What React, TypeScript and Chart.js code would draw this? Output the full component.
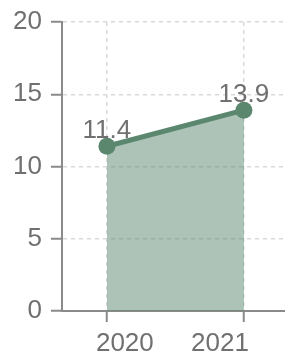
import React, { useEffect, useRef } from "react";
import { Chart, registerables } from "chart.js";

Chart.register(...registerables);

// ---- data ----
const years: number[] = [2020, 2021];
const values: number[] = [11.4, 13.9];
const yTicks: number[] = [0, 5, 10, 15, 20];
const xRange: number[] = [2019.672, 2021.3];
// where each year label sits relative to its year (in axis units)
const labelShift: number[] = [0.131, -0.175];

const LINE = "#5b876f";
const FILL = "rgba(91,135,111,0.5)";
const AXIS = "#8a8a8a";
const GRID = "#d9d9d9";
const TEXT = "#707070";
const FONT = "'Liberation Sans', Arial, sans-serif";

const valueLabels = {
  id: "valueLabels",
  afterDatasetsDraw(chart: any) {
    const ctx = chart.ctx;
    const meta = chart.getDatasetMeta(0);
    ctx.save();
    ctx.font = `26px ${FONT}`;
    ctx.fillStyle = TEXT;
    ctx.textAlign = "center";
    ctx.textBaseline = "alphabetic";
    meta.data.forEach((pt: any, i: number) => {
      ctx.fillText(values[i].toFixed(1), pt.x, pt.y - 8);
    });
    ctx.restore();
  },
};

export default function App() {
  const ref = useRef<HTMLCanvasElement | null>(null);

  useEffect(() => {
    document.body.style.margin = "0";
    document.body.style.overflow = "hidden";
    if (!ref.current) return;
    const n = years.length;
    const chart = new Chart(ref.current, {
      type: "line",
      data: {
        datasets: [
          {
            data: years.map((y, i) => ({ x: y, y: values[i] })),
            borderColor: LINE,
            backgroundColor: FILL,
            borderWidth: 5,
            pointRadius: 8.5,
            pointBackgroundColor: LINE,
            pointBorderWidth: 0,
            fill: "origin",
            tension: 0,
            clip: false,
          },
        ],
      },
      plugins: [valueLabels],
      options: {
        animation: false,
        responsive: false,
        devicePixelRatio: 1,
        events: [],
        layout: { autoPadding: false, padding: { top: 21, right: 0, bottom: 1, left: 0 } },
        plugins: {
          legend: { display: false },
          tooltip: { enabled: false },
        },
        scales: {
          x: {
            type: "linear",
            min: xRange[0],
            max: xRange[1],
            afterBuildTicks: (s: any) => {
              s.ticks = [
                ...years.map((v) => ({ value: v })),
                ...years.map((v, i) => ({ value: v + labelShift[i] })),
              ];
            },
            afterFit: (s: any) => {
              s.height = 46;
              s.paddingLeft = 0;
              s.paddingRight = 0;
            },
            grid: {
              color: (c: any) => (c.index < n ? GRID : "rgba(0,0,0,0)"),
              lineWidth: 1.5,
              tickColor: (c: any) => (c.index < n ? AXIS : "rgba(0,0,0,0)"),
              tickLength: 11,
              tickWidth: 2,
            },
            border: { color: AXIS, width: 2, dash: [4, 4] },
            ticks: {
              autoSkip: false,
              maxRotation: 0,
              padding: 9,
              color: TEXT,
              font: { size: 26, family: FONT, lineHeight: 1 },
              callback: (_v: any, i: number) =>
                i < n ? "" : String(years[i - n]),
            },
          },
          y: {
            min: yTicks[0],
            max: yTicks[yTicks.length - 1],
            afterBuildTicks: (s: any) => {
              s.ticks = yTicks.map((v) => ({ value: v }));
            },
            afterFit: (s: any) => {
              s.width = 62;
            },
            grid: {
              color: GRID,
              lineWidth: 1.5,
              tickColor: AXIS,
              tickLength: 11,
              tickWidth: 2,
            },
            border: { color: AXIS, width: 2, dash: [4, 4] },
            ticks: {
              padding: 9,
              color: TEXT,
              font: { size: 26, family: FONT, lineHeight: 1 },
              callback: (v: any) => String(v),
            },
          },
        },
      },
    } as any);
    return () => chart.destroy();
  }, []);

  return (
    <div style={{ width: 285, height: 358 }}>
      <canvas ref={ref} width={285} height={358} style={{ display: "block", width: 285, height: 358 }} />
    </div>
  );
}
